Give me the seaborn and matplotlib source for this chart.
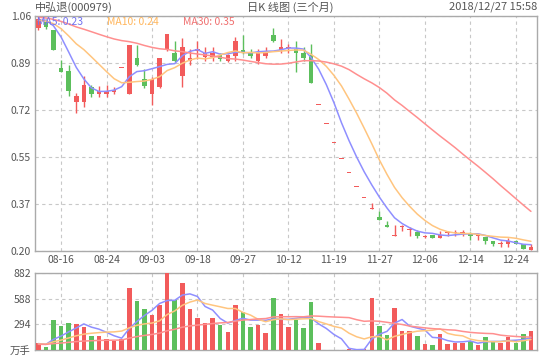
import numpy as np
import pandas as pd
import seaborn as sns
import matplotlib.pyplot as plt

# 日K 三个月: 开 高 低 收
opens = [1.017, 1.040, 1.009, 0.871, 0.859, 0.747, 0.747, 0.802, 0.777, 0.775,
         0.783, 0.871, 0.775, 0.909, 0.830, 0.775, 0.801, 0.938, 0.927, 0.844,
         0.897, 0.935, 0.912, 0.912, 0.918, 0.897, 0.915, 0.939, 0.927, 0.897,
         0.915, 0.991, 0.936, 0.946, 0.942, 0.927, 0.918, 0.737, 0.667, 0.598,
         0.539, 0.488, 0.438, 0.396, 0.357, 0.328, 0.298, 0.256, 0.289, 0.280,
         0.271, 0.255, 0.259, 0.249, 0.268, 0.268, 0.268, 0.268, 0.258, 0.252,
         0.240, 0.227, 0.226, 0.240, 0.228, 0.207]
highs = [1.058, 1.050, 1.012, 0.901, 0.881, 0.780, 0.841, 0.811, 0.805, 0.808,
         0.802, 0.871, 0.956, 0.956, 0.869, 0.838, 0.909, 0.997, 0.969, 0.981,
         0.942, 0.969, 0.947, 0.948, 0.927, 0.923, 0.985, 0.993, 0.942, 0.942,
         0.950, 1.018, 0.978, 0.960, 0.969, 0.948, 0.958, 0.737, 0.667, 0.598,
         0.539, 0.488, 0.438, 0.396, 0.377, 0.350, 0.310, 0.298, 0.298, 0.289,
         0.279, 0.261, 0.259, 0.277, 0.277, 0.280, 0.280, 0.271, 0.265, 0.252,
         0.240, 0.238, 0.250, 0.242, 0.228, 0.228]
lows = [1.010, 1.015, 0.938, 0.856, 0.769, 0.706, 0.728, 0.767, 0.767, 0.767,
        0.777, 0.871, 0.775, 0.878, 0.799, 0.737, 0.798, 0.935, 0.893, 0.804,
        0.884, 0.905, 0.897, 0.897, 0.897, 0.893, 0.897, 0.923, 0.908, 0.887,
        0.909, 0.966, 0.926, 0.927, 0.856, 0.899, 0.816, 0.737, 0.667, 0.598,
        0.539, 0.488, 0.438, 0.396, 0.357, 0.317, 0.289, 0.256, 0.277, 0.256,
        0.249, 0.249, 0.249, 0.249, 0.256, 0.256, 0.258, 0.244, 0.244, 0.226,
        0.222, 0.216, 0.216, 0.228, 0.210, 0.204]
closes = [1.052, 1.020, 0.938, 0.856, 0.786, 0.771, 0.808, 0.775, 0.789, 0.789,
          0.793, 0.871, 0.956, 0.884, 0.805, 0.830, 0.909, 0.997, 0.897, 0.950,
          0.910, 0.942, 0.927, 0.927, 0.905, 0.918, 0.969, 0.927, 0.915, 0.927,
          0.927, 0.972, 0.950, 0.948, 0.926, 0.908, 0.816, 0.737, 0.667, 0.598,
          0.539, 0.488, 0.438, 0.396, 0.358, 0.317, 0.289, 0.258, 0.290, 0.281,
          0.256, 0.257, 0.249, 0.261, 0.269, 0.270, 0.270, 0.256, 0.260, 0.238,
          0.226, 0.229, 0.240, 0.228, 0.210, 0.218]
# 成交量 (万手)
volumes = [77, 31, 345, 276, 310, 299, 264, 161, 161, 126,
           103, 126, 712, 563, 471, 402, 517, 882, 574, 770,
           471, 368, 310, 368, 287, 207, 517, 437, 264, 287,
           195, 597, 414, 264, 345, 253, 552, 80, 3, 2,
           3, 8, 5, 15, 597, 276, 172, 483, 218, 218,
           161, 69, 57, 184, 69, 80, 80, 103, 57, 149,
           103, 80, 149, 80, 184, 218]
# 图左边之前的收盘价和成交量 (用于均线, 按均线起点估计)
prior_close = [1.10, 1.09, 1.08, 1.07, 1.09, 1.06, 1.05, 1.07, 1.06, 1.04,
               1.05, 1.07, 1.06, 1.05, 1.04, 1.06, 1.07, 1.05, 1.04, 1.06,
               1.05, 1.03, 1.04, 1.05, 1.06, 1.02, 1.04, 1.06, 1.06]
prior_vol = [70, 55, 90, 60, 45, 80, 65, 50, 75, 60,
             85, 55, 40, 70, 65, 50, 60, 80, 55, 45,
             70, 60, 90, 65, 50, 75, 60, 85, 70]

date_ticks = [3, 9, 15, 21, 27, 33, 39, 45, 51, 57, 63]
date_labels = ['08-16', '08-24', '09-03', '09-18', '09-27', '10-12',
               '11-19', '11-27', '12-06', '12-14', '12-24']
price_labels = ['0.20', '0.37', '0.55', '0.72', '0.89', '1.06']
vol_labels = ['万手', '294', '588', '882']

RED = '#f25b5b'
GREEN = '#5cbf5c'
C_MA5 = '#8f8fff'
C_MA10 = '#ffc57f'
C_MA30 = '#ff8f8f'
GREY = '#555555'

sns.set_theme(style='white')
plt.rcParams['font.family'] = ['Noto Sans CJK SC', 'DejaVu Sans']

n = len(closes)
idx = np.arange(n)
df = pd.DataFrame({'i': idx, 'open': opens, 'high': highs, 'low': lows,
                   'close': closes, 'vol': volumes})
df['col'] = np.where(df['close'] >= df['open'], 'up', 'down')

cs = pd.Series(prior_close + closes)
vs = pd.Series(prior_vol + volumes)
k = len(prior_close)
for m in (5, 10, 30):
    df[f'ma{m}'] = cs.rolling(m).mean().values[k:]
    df[f'vma{m}'] = vs.rolling(m).mean().values[k:]

fig = plt.figure(figsize=(5.45, 3.62), dpi=100)
ax = fig.add_axes([35 / 545, 1 - 251 / 362, 502 / 545, 235 / 362])
axv = fig.add_axes([35 / 545, 1 - 350 / 362, 502 / 545, 77 / 362])

# K 线
for _, r in df.iterrows():
    c = RED if r['col'] == 'up' else GREEN
    ax.vlines(r['i'], r['low'], r['high'], color=c, lw=1, zorder=3)
    h = max(abs(r['close'] - r['open']), 0.0035)
    ax.bar(r['i'], h, bottom=min(r['open'], r['close']), width=0.6,
           color=c, lw=0, zorder=3)

# 成交量柱
sns.barplot(data=df, x='i', y='vol', hue='col', palette={'up': RED, 'down': GREEN},
            dodge=False, legend=False, width=0.6, ax=axv, saturation=1,
            linewidth=0, zorder=3)

for m, c in ((5, C_MA5), (10, C_MA10), (30, C_MA30)):
    sns.lineplot(data=df, x='i', y=f'ma{m}', ax=ax, color=c, lw=1.1, zorder=4)
    sns.lineplot(data=df, x='i', y=f'vma{m}', ax=axv, color=c, lw=1.1, zorder=4)

ylo, yhi = 0.202, 1.062
for a in (ax, axv):
    a.set_xlim(-0.44, 65.8)
    a.set_xlabel('')
    a.set_ylabel('')
    a.set_xticks(date_ticks)
    a.grid(True, color='#c8c8c8', ls=(0, (3, 3)), lw=0.8, zorder=0)
    a.tick_params(length=0, labelsize=7.5, colors=GREY, pad=3)
    for s in a.spines.values():
        s.set_color('#aaaaaa')
        s.set_linewidth(1)

ax.set_ylim(ylo, yhi)
ax.set_yticks(np.linspace(ylo, yhi, 6))
ax.set_yticklabels(price_labels)
ax.set_xticklabels(date_labels)

axv.set_ylim(0, 882)
axv.set_yticks([0, 294, 588, 882])
axv.set_yticklabels(vol_labels)
axv.set_xticklabels([])

# 标题行
fig.text(35 / 545, 1 - 7 / 362, '中弘退(000979)', fontsize=8, color=GREY, va='center')
fig.text(290 / 545, 1 - 7 / 362, '日K 线图 (三个月)', fontsize=8, color=GREY,
         va='center', ha='center')
fig.text(537 / 545, 1 - 7 / 362, '2018/12/27 15:58', fontsize=8, color=GREY,
         va='center', ha='right')

# 均线数值
ly = (251 - 22) / 235
ax.text(2 / 502, ly, 'MA5: 0.23', color='#7272f0', fontsize=7.5, va='center',
        transform=ax.transAxes, zorder=5)
ax.text(72 / 502, ly, 'MA10: 0.24', color='#ffb65c', fontsize=7.5, va='center',
        transform=ax.transAxes, zorder=5)
ax.text(148 / 502, ly, 'MA30: 0.35', color='#f07070', fontsize=7.5, va='center',
        transform=ax.transAxes, zorder=5)

fig.savefig('out.png', dpi=100)
